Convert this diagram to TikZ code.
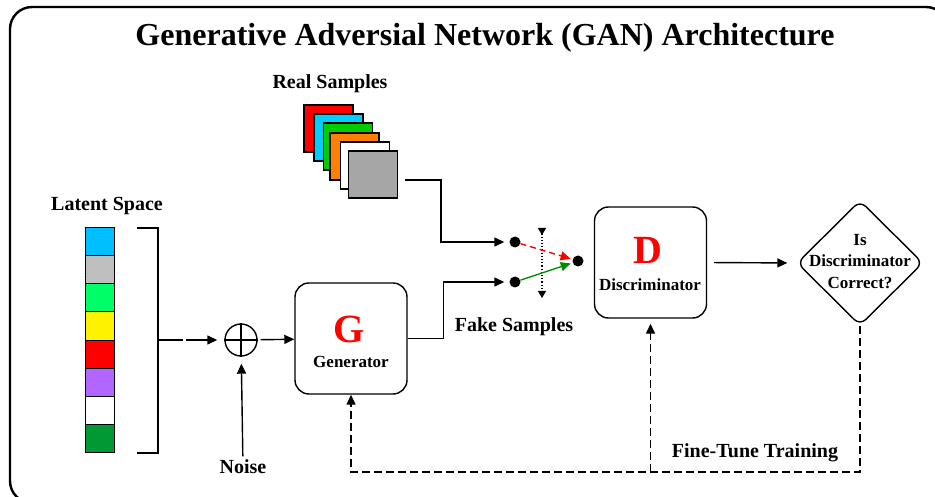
\documentclass[tikz,border=0pt]{standalone}
\usepackage{fontspec}
\setmainfont{Liberation Serif}
\usetikzlibrary{arrows.meta,shapes.geometric}
\definecolor{zBlue}{HTML}{00BFFF}
\definecolor{zGray}{HTML}{BFBFBF}
\definecolor{zLime}{HTML}{00FF66}
\definecolor{zPurple}{HTML}{B266FF}
\definecolor{zGreen}{HTML}{009933}
\definecolor{sCyan}{HTML}{00CCFF}
\definecolor{sGreen}{HTML}{00CC00}
\definecolor{sOrange}{HTML}{FF8000}
\definecolor{sGray}{HTML}{A6A6A6}

\begin{document}
\begin{tikzpicture}[x=1pt, y=-1pt,
	every node/.style={text centered, font=\bfseries},
	lbl/.style={font=\fontsize{20}{22}\selectfont\bfseries},
	small/.style={font=\fontsize{17}{21.5}\selectfont\bfseries},
	big/.style={text=red, font=\fontsize{40}{40}\selectfont\bfseries},
	block/.style={rectangle, draw, rounded corners=14pt, minimum width=112pt, minimum height=111pt, line width=1.4pt},
	cell/.style={rectangle, draw, minimum width=29pt, minimum height=28pt, line width=1pt},
	sample/.style={rectangle, draw, minimum width=49pt, minimum height=47pt, line width=1.3pt},
	pin/.style={circle, fill, inner sep=0pt, minimum size=11pt},
	conn/.style={line width=1.4pt, -{Triangle[length=10pt,width=9pt]}},
	back/.style={conn, dash pattern=on 8pt off 4pt}
]
	\useasboundingbox (0, 0) rectangle (935, 497);
	\draw[line width=2.4pt, rounded corners=22pt] (10, 7) rectangle (948, 503);

	\node[font=\fontsize{32}{34}\selectfont\bfseries] (title) at (485, 38)
		{Generative Adversial Network (GAN) Architecture};

	% latent space
	\node[lbl] (latent) at (107, 206) {Latent Space};
	\foreach \c [count=\i] in {zBlue, zGray, zLime, yellow, red, zPurple, white, zGreen}
		\node[cell, fill=\c] (z\i) at (99.5, 214 + 28*\i) {};
	\draw[line width=1.4pt] (137, 228) -- (158, 228) -- (158, 453) -- (137, 453);
	\coordinate (brk) at (158, 340);

	\node[circle, draw, minimum size=32pt, line width=1.4pt] (sum) at (241, 340) {};
	\draw[line width=1.4pt] (sum.north) -- (sum.south) (sum.west) -- (sum.east);
	\node[lbl] (noise) at (243, 467) {Noise};

	% generator
	\node[block] (gen) at (351, 338.5) {};
	\node[big] (genG) at (349, 329) {G};
	\node[small] (genT) at (351, 362) {Generator};

	% real samples
	\node[lbl] (real) at (330, 84) {Real Samples};
	\foreach \c/\x/\y [count=\i] in {red/328.5/128.5, sCyan/338.5/137.5, sGreen/348/146.5,
			sOrange/354.5/156.5, white/365/165.5, sGray/373/174.5}
		\node[sample, fill=\c] (s\i) at (\x, \y) {};

	% switch
	\node[pin] (pinR) at (515, 242) {};
	\node[pin] (pinF) at (515, 282) {};
	\node[pin] (pinO) at (578, 261) {};
	\coordinate (swT) at (542, 228);
	\coordinate (swB) at (542, 298);
	\draw[dotted, line width=1.2pt, {Triangle[reversed,length=7pt,width=8pt]}-{Triangle[length=7pt,width=8pt]}] (swT) -- (swB);
	\node[lbl] (fake) at (514, 327) {Fake Samples};

	% discriminator
	\node[block] (dis) at (650.5, 262.5) {};
	\node[big] (disD) at (648, 250) {D};
	\node[small] (disT) at (650, 285) {Discriminator};

	\node[diamond, draw, rounded corners=8pt, minimum width=126pt, minimum height=125pt, inner sep=0pt, line width=1.4pt] (chk) at (860, 263) {};
	\node[small, align=center] (chkT) at (860, 261.5) {Is\\Discriminator\\Correct?};

	\coordinate (fbR) at (860, 472);
	\coordinate (fbL) at (gen.south |- fbR);
	\coordinate (fbD) at (dis.south |- fbR);
	\node[lbl] (tune) at (755, 453) {Fine-Tune Training};

	% connectors
	\draw[conn, dash pattern=on 25pt off 3pt on 80pt off 0pt, shorten >=7pt] (brk) -- (sum);
	\draw[conn, shorten <=3pt] (sum) -- (gen);
	\draw[conn, shorten >=7pt] (noise) -- (sum);
	\draw[conn, shorten >=5pt] ([xshift=7pt, yshift=-5.5pt]s6.east) -- ++(36, 0) |- (pinR);
	\draw[conn, shorten >=5pt] (gen.east) -- ++(36, 0) |- (pinF);
	\draw[red, line width=1.4pt, dash pattern=on 6pt off 4pt, -{Triangle[length=10pt,width=9pt]}, shorten >=2pt] (pinR) -- (pinO);
	\draw[green!55!black, line width=1.4pt, -{Triangle[length=10pt,width=9pt]}, shorten >=2pt] (pinF) -- (pinO);
	\draw[conn, shorten <=7pt, shorten >=9pt] (dis.east) -- (chk.west);
	\draw[back] (chk.south) -- (fbR) -- (fbL) -- (gen.south);
	\draw[back, shorten >=5pt] (fbD) -- (dis.south);
\end{tikzpicture}
\end{document}
